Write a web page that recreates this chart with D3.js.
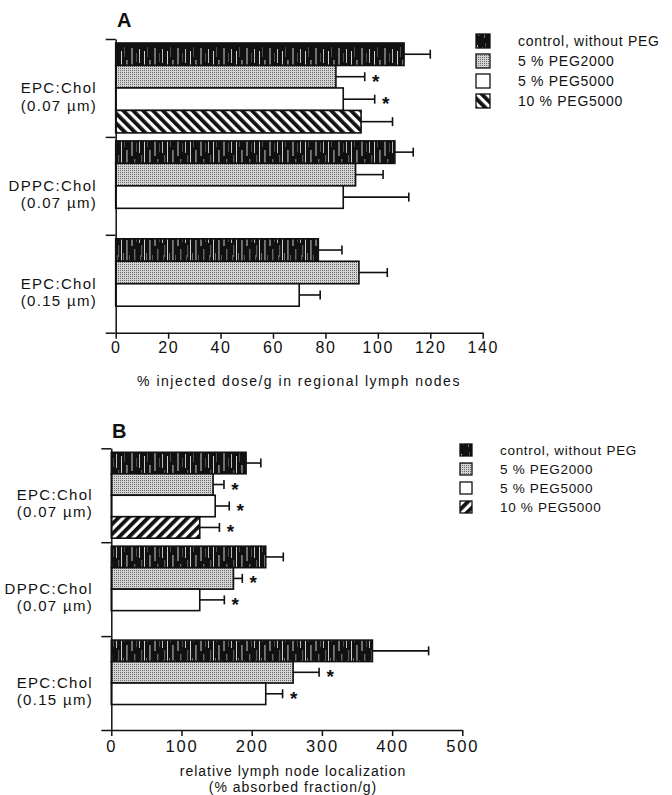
<!DOCTYPE html>
<html>
<head>
<meta charset="utf-8">
<script src="https://cdn.jsdelivr.net/npm/d3@7"></script>
<style>
  body { margin: 0; background: #fff; }
  svg { display: block; }
  text { font-family: "Liberation Sans", Arial, Helvetica, sans-serif; fill: #111; }
  .axis path, .axis line { stroke: #111; stroke-width: 1.5; }
  .axis text { font-family: "Liberation Sans", Arial, sans-serif; fill: #111; }
</style>
</head>
<body>
<svg width="672" height="795"></svg>
<script>
// categories
var seriesNames = ["control, without PEG", "5 % PEG2000", "5 % PEG5000", "10 % PEG5000"];
var groupLipids = ["EPC:Chol", "DPPC:Chol", "EPC:Chol"];
var groupSizes = ["(0.07 \u00b5m)", "(0.07 \u00b5m)", "(0.15 \u00b5m)"];

// panel A: % injected dose/g in regional lymph nodes (one row per series, one value per group)
var doseA = [[110, 106.5, 77.3], [84, 91.5, 92.8], [86.8, 86.8, 70], [93.6, null, null]];
var doseErrA = [[10, 7, 9], [11, 10.5, 10.8], [12, 25, 8], [12, null, null]];
var starsA = [[0, 0, 0], [1, 0, 0], [1, 0, 0], [0, 0, 0]];
var ticksA = [0, 20, 40, 60, 80, 100, 120, 140];

// panel B: relative lymph node localization (% absorbed fraction/g)
var locB = [[192, 220, 372], [145, 174, 259], [148, 126, 220], [126, null, null]];
var locErrB = [[21, 25, 80], [15.5, 12.6, 37], [20, 35, 24], [28, null, null]];
var starsB = [[0, 0, 0], [1, 1, 1], [1, 1, 1], [1, 0, 0]];
var ticksB = [0, 100, 200, 300, 400, 500];

var svg = d3.select("svg");
var defs = svg.append("defs");

// vertical streak fill for the control bars (black with broken white scratches)
var streak = defs.append("pattern").attr("id", "streak")
  .attr("patternUnits", "userSpaceOnUse").attr("width", 23).attr("height", 45);
streak.append("rect").attr("width", 23).attr("height", 45).attr("fill", "#111");
[[1, 0.8, 4, 14, 0.9], [3.5, 0.6, 20, 12, 0.6], [6, 1, 6, 30, 0.8], [9, 0.5, 2, 10, 0.5],
 [11.5, 0.9, 15, 22, 0.85], [14, 0.6, 30, 12, 0.5], [16.5, 1, 3, 18, 0.8], [19.5, 0.7, 24, 17, 0.7],
 [21.5, 0.5, 8, 9, 0.5], [8, 0.7, 28, 14, 0.6], [2.5, 0.6, 30, 10, 0.6]].forEach(function (s) {
  streak.append("rect").attr("x", s[0]).attr("y", s[2]).attr("width", s[1]).attr("height", s[3])
    .attr("fill", "#fff").attr("opacity", s[4]);
});

// stipple fill
var dots = defs.append("pattern").attr("id", "dots")
  .attr("patternUnits", "userSpaceOnUse").attr("width", 2).attr("height", 2);
dots.append("rect").attr("width", 2).attr("height", 2).attr("fill", "#d4d4d4");
dots.append("rect").attr("width", 1).attr("height", 1).attr("fill", "#6a6a6a");

function hatch(id, angle) {
  var p = defs.append("pattern").attr("id", id)
    .attr("patternUnits", "userSpaceOnUse").attr("width", 7).attr("height", 7)
    .attr("patternTransform", "rotate(" + angle + ")");
  p.append("rect").attr("width", 7).attr("height", 7).attr("fill", "#fff");
  p.append("rect").attr("width", 3.8).attr("height", 7).attr("fill", "#111");
}
hatch("hatchA", -45);
hatch("hatchB", 45);

function drawPanel(o) {
  var g = svg.append("g");

  var x = d3.scaleLinear().domain([0, o.ticks[o.ticks.length - 1]]).range([o.x0, o.x1]);
  var y = d3.scaleBand().domain(d3.range(groupLipids.length)).range([o.top, o.bottom]);
  var inner = d3.scaleBand().domain(d3.range(seriesNames.length))
    .range([4, y.bandwidth() - 4]);
  var fills = ["url(#streak)", "url(#dots)", "#fff", "url(#" + o.hatch + ")"];

  // bars, error bars and stars
  o.values.forEach(function (row, s) {
    row.forEach(function (v, gi) {
      if (v == null) return;
      var by = y(gi) + inner(s), bh = inner.bandwidth(), cy = by + bh / 2;
      var e = v + o.errors[s][gi];
      g.append("line").attr("x1", x(v)).attr("x2", x(e)).attr("y1", cy).attr("y2", cy)
        .attr("stroke", "#111").attr("stroke-width", 1.6);
      g.append("line").attr("x1", x(e)).attr("x2", x(e)).attr("y1", cy - 4.5).attr("y2", cy + 4.5)
        .attr("stroke", "#111").attr("stroke-width", 1.6);
      g.append("rect").attr("x", x(0)).attr("y", by).attr("width", x(v) - x(0)).attr("height", bh)
        .attr("fill", fills[s]).attr("stroke", "#111").attr("stroke-width", 1.6);
      if (o.stars[s][gi]) {
        g.append("text").attr("x", x(e) + 11).attr("y", cy + 11)
          .attr("text-anchor", "middle").style("font-size", "19px").style("font-weight", "bold")
          .text("*");
      }
    });
  });

  // left axis with ticks at the group boundaries
  var edge = d3.scaleLinear().domain([0, groupLipids.length]).range([o.top, o.bottom]);
  g.append("g").attr("class", "axis").attr("transform", "translate(" + x(0) + ",0)")
    .call(d3.axisLeft(edge).tickValues(d3.range(groupLipids.length + 1)).tickFormat("")
      .tickSize(10).tickSizeOuter(0));

  var xa = g.append("g").attr("class", "axis").attr("transform", "translate(0," + o.bottom + ")")
    .call(d3.axisBottom(x).tickValues(o.ticks).tickSize(6).tickPadding(o.pad).tickSizeOuter(0));
  xa.selectAll("text").style("font-size", o.tickFont + "px").style("letter-spacing", o.tickSpacing + "px");

  // group labels
  groupLipids.forEach(function (name, gi) {
    var t = g.append("text").attr("text-anchor", "end").attr("x", o.labelX)
      .style("font-size", "15px").style("letter-spacing", "1.3px");
    t.append("tspan").attr("x", o.labelX).attr("y", y(gi) + y.bandwidth() * 0.5 + 5).text(name);
    t.append("tspan").attr("x", o.labelX).attr("y", y(gi) + y.bandwidth() * 0.68 + 5).text(groupSizes[gi]);
  });

  // axis title
  o.title.forEach(function (line, i) {
    g.append("text").attr("x", o.titleX).attr("y", o.titleY + i * 16).attr("text-anchor", "middle")
      .style("font-size", "14px").style("letter-spacing", o.titleSpacing + "px").text(line);
  });

  // panel letter
  g.append("text").attr("x", o.letterX).attr("y", o.letterY)
    .style("font-size", "20px").style("font-weight", "bold").text(o.letter);

  // legend
  var leg = g.selectAll(".legend").data(seriesNames).enter().append("g")
    .attr("transform", function (d, i) { return "translate(" + o.legX + "," + (o.legY + i * o.legStep) + ")"; });
  leg.append("rect").attr("x", 0).attr("y", -o.sw / 2).attr("width", o.sw).attr("height", o.sw)
    .attr("fill", function (d, i) { return fills[i]; }).attr("stroke", "#111").attr("stroke-width", 1.3);
  leg.append("text").attr("x", o.legTextDx).attr("y", 5)
    .style("font-size", o.legFont + "px").style("letter-spacing", "0.7px")
    .text(function (d) { return d; });
}

drawPanel({
  values: doseA, errors: doseErrA, stars: starsA, ticks: ticksA, hatch: "hatchA",
  x0: 115.7, x1: 482.7, top: 39, bottom: 332.7, pad: 3, tickFont: 16, tickSpacing: 1.6,
  labelX: 97, title: ["% injected dose/g in regional lymph nodes"], titleX: 299, titleY: 386, titleSpacing: 1.5,
  letter: "A", letterX: 117, letterY: 27,
  legX: 476, legY: 41, legStep: 20, sw: 14, legTextDx: 42, legFont: 14
});

drawPanel({
  values: locB, errors: locErrB, stars: starsB, ticks: ticksB, hatch: "hatchB",
  x0: 111.3, x1: 462.3, top: 448.3, bottom: 730, pad: 4, tickFont: 16.5, tickSpacing: 1.8,
  labelX: 93, title: ["relative lymph node localization", "(% absorbed fraction/g)"], titleX: 293, titleY: 776, titleSpacing: 1,
  letter: "B", letterX: 112, letterY: 438,
  legX: 460, legY: 450, legStep: 19, sw: 12, legTextDx: 40, legFont: 13.5
});
</script>
</body>
</html>
